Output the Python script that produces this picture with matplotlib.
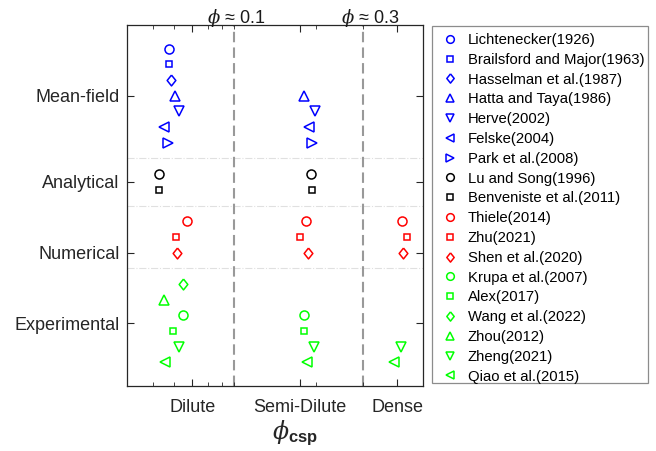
import numpy as np
import matplotlib
matplotlib.use("Agg")
import matplotlib.pyplot as plt
from matplotlib.ticker import FixedLocator, NullFormatter
from matplotlib.patches import Rectangle

plt.rcParams['font.family'] = ['Liberation Sans', 'DejaVu Sans']
plt.rcParams['mathtext.fontset'] = 'custom'
plt.rcParams['mathtext.rm'] = 'Liberation Sans'
plt.rcParams['mathtext.it'] = 'DejaVu Serif:italic'
plt.rcParams['mathtext.bf'] = 'Liberation Sans:bold'

# studies, in legend order
names = ['Lichtenecker(1926)', 'Brailsford and Major(1963)', 'Hasselman et al.(1987)',
         'Hatta and Taya(1986)', 'Herve(2002)', 'Felske(2004)', 'Park et al.(2008)',
         'Lu and Song(1996)', 'Benveniste et al.(2011)',
         'Thiele(2014)', 'Zhu(2021)', 'Shen et al.(2020)',
         'Krupa et al.(2007)', 'Alex(2017)', 'Wang et al.(2022)', 'Zhou(2012)',
         'Zheng(2021)', 'Qiao et al.(2015)']
colors = ['b'] * 7 + ['k'] * 2 + ['r'] * 3 + ['#00ff00'] * 6
markers = ['o', 's', 'dia', '^', 'v', '<', '>', 'o', 's', 'o', 's', 'dia',
           'o', 's', 'dia', '^', 'v', '<']
# row of each study on the y axis
rows = [0, 1, 2, 3, 4, 5, 6, 8, 9, 11, 12, 13, 17, 18, 15, 16, 19, 20]

# volume fraction where each study sits (nan = not covered)
x_dilute = [0.0574, 0.0574, 0.0585, 0.0605, 0.0626, 0.0548, 0.0567,
            0.0525, 0.0525, 0.0669, 0.0609, 0.0614,
            0.0648, 0.0592, 0.0644, 0.0548, 0.0626, 0.0552]
x_semi = [np.nan, np.nan, np.nan, 0.1815, 0.1988, 0.189, 0.193,
          0.1927, 0.193, 0.1846, 0.1744, 0.1866,
          0.1815, 0.1818, np.nan, np.nan, 0.1965, 0.1862]
x_dense = [np.nan] * 9 + [0.418, 0.437, 0.4216,
                          np.nan, np.nan, np.nan, np.nan, 0.4143, 0.3881]

groups = ['Mean-field', 'Analytical', 'Numerical', 'Experimental']
group_pos = [3, 8.5, 13, 17.5]
group_sep = [7, 10, 14]
regimes = ['Dilute', 'Semi-Dilute', 'Dense']
regime_pos = [0.07, 0.175, 0.4]
bounds = [0.1, 0.3]
bound_labels = [r'$\phi$ ≈ 0.1', r'$\phi$ ≈ 0.3']

# matlab-like diamond, a bit taller than wide
diamond = [(0, 1), (0.8, 0), (0, -1), (-0.8, 0), (0, 1)]

fig = plt.figure(figsize=(6.56, 4.51), dpi=100)
ax = fig.add_axes([0.1931, 0.1441, 0.4522, 0.8004])

for y in group_sep:
    ax.axhline(y, color='0.88', lw=0.8, ls='-.', zorder=0)
for b in bounds:
    ax.axvline(b, color='0.6', lw=1.5, ls=(0, (5, 2.5)), zorder=1)

for i in range(len(names)):
    m = markers[i]
    ms = 4.8 if m == 's' else 6.5
    if m == 'dia':
        m = diamond
        ms = 7.8
    xs = [x_dilute[i], x_semi[i], x_dense[i]]
    ax.plot(xs, [rows[i]] * 3, ls='none', marker=m, ms=ms,
            mfc='none', mec=colors[i], mew=1.1, label=names[i])

ax.set_xscale('log')
ax.set_xlim(0.04, 0.5)
ax.set_ylim(21.5, -1.5)
ax.xaxis.set_major_locator(FixedLocator(regime_pos))
ax.set_xticklabels(regimes)
ax.xaxis.set_minor_locator(FixedLocator([0.05, 0.06, 0.08, 0.09, 0.1, 0.2, 0.3, 0.5]))
ax.xaxis.set_minor_formatter(NullFormatter())
ax.set_yticks(group_pos)
ax.set_yticklabels(groups)
ax.tick_params(axis='both', which='both', direction='in', top=True, right=True,
               colors='0.15', labelcolor='0.15')
ax.tick_params(axis='x', which='major', length=5, labelsize=13, pad=9)
ax.tick_params(axis='x', which='minor', length=3)
ax.tick_params(axis='y', which='major', length=5, labelsize=13, pad=5)
for s in ax.spines.values():
    s.set_color('0.15')
    s.set_linewidth(0.9)

for x0, t in zip([0.0795, 0.248], bound_labels):
    ax.text(x0, -1.6, t, ha='left', va='baseline', fontsize=13, color='0.1')

fig.text(295 / 656, 1 - 433 / 451, r'$\phi_{\mathbf{csp}}$', ha='center',
         va='center', fontsize=17, color='0.15')

leg = fig.legend(loc='upper left', bbox_to_anchor=(441 / 656, 1 - 33 / 451),
                 frameon=False, fontsize=10.7, handlelength=1.2,
                 handletextpad=0.6, labelspacing=0.39, borderpad=0,
                 borderaxespad=0)
for h in leg.legend_handles:
    h.set_markersize(h.get_markersize() * 0.85)
fig.patches.append(Rectangle((431.7 / 656, 1 - 382.7 / 451), 216.6 / 656, 357 / 451,
                             transform=fig.transFigure, fill=False,
                             edgecolor='0.55', lw=0.9))

fig.savefig('out.png', dpi=100)
